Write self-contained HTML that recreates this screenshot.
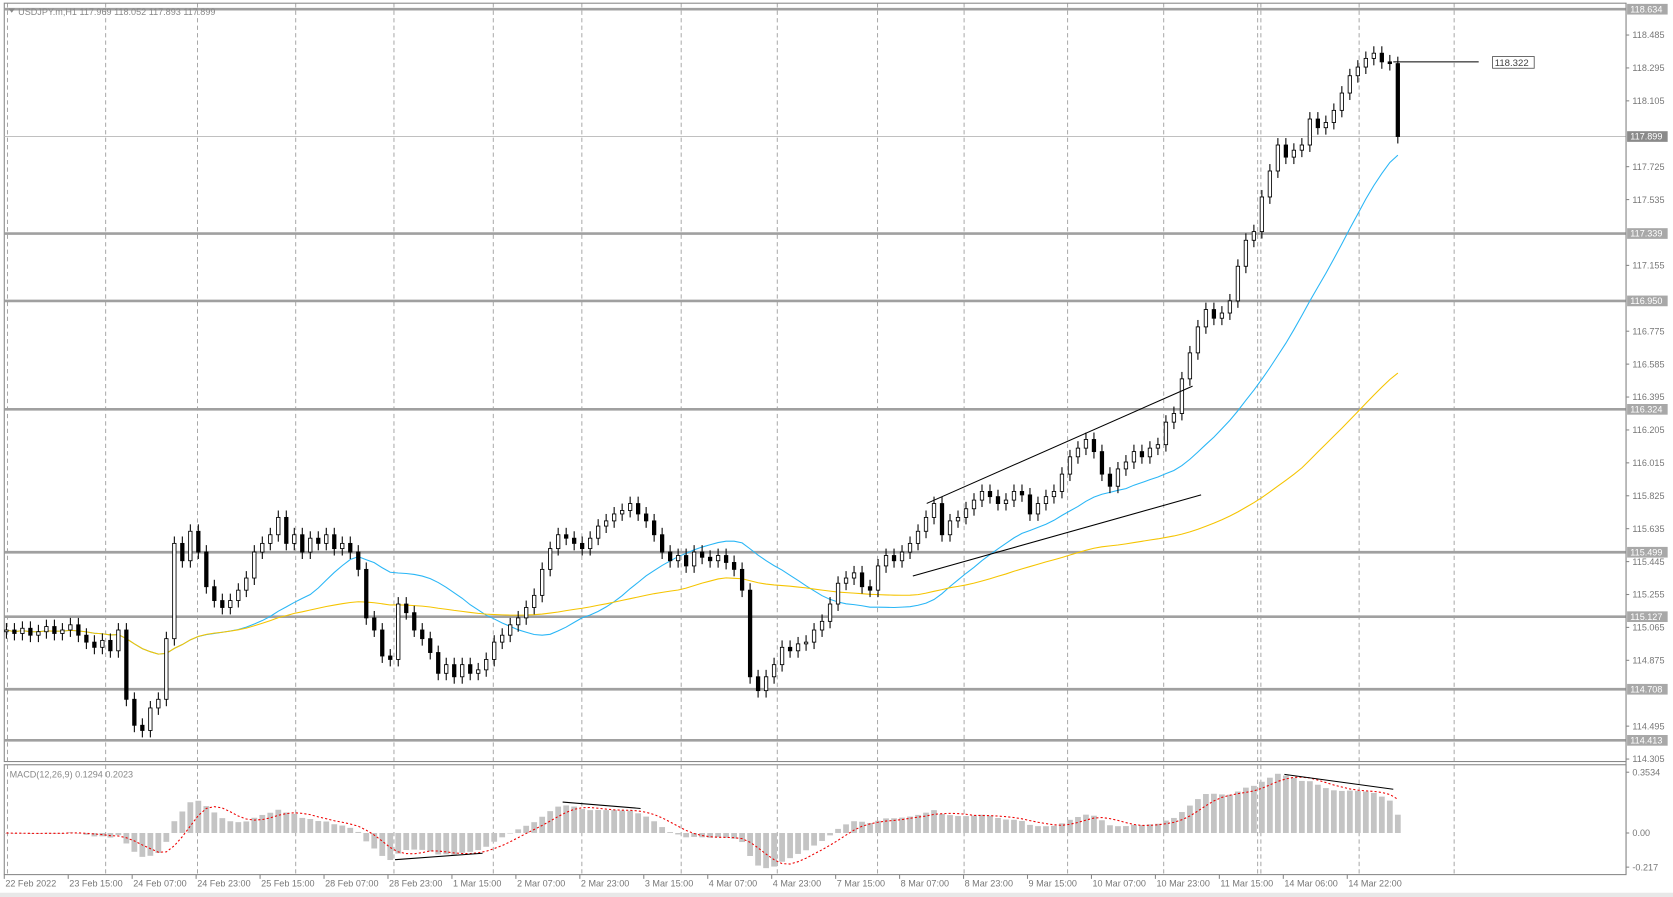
<!DOCTYPE html>
<html><head><meta charset="utf-8"><style>
html,body{margin:0;padding:0;background:#fff;overflow:hidden}
svg{display:block;font-family:"Liberation Sans",sans-serif}
</style></head><body>
<svg id="c" width="1673" height="897" viewBox="0 0 1567 841" preserveAspectRatio="none" xmlns="http://www.w3.org/2000/svg">
<rect x="0" y="0" width="1567" height="841" fill="#fff"/>
<g id="grid"></g>
<g id="levels"></g>
<g id="ma"></g>
<g id="candles"></g>
<g id="macd"></g>
<g id="draw"></g>
<g id="axis"></g>
</svg>
<script>
const closes=[115.05,115.03,115.06,115.02,115.04,115.07,115.03,115.05,115.08,115.02,
114.98,114.95,114.99,114.93,115.05,114.65,114.5,114.47,114.6,114.65,
115.0,115.55,115.45,115.62,115.5,115.3,115.22,115.18,115.22,115.28,
115.35,115.5,115.55,115.6,115.7,115.55,115.6,115.5,115.58,115.55,
115.6,115.52,115.55,115.5,115.4,115.12,115.05,114.9,114.88,115.2,
115.15,115.05,115.0,114.92,114.8,114.85,114.78,114.85,114.8,114.82,
114.88,114.98,115.02,115.08,115.12,115.18,115.25,115.4,115.52,115.6,
115.58,115.55,115.52,115.58,115.65,115.68,115.72,115.74,115.78,115.72,
115.68,115.6,115.5,115.45,115.48,115.42,115.5,115.47,115.45,115.48,
115.44,115.4,115.28,114.78,114.7,114.78,114.85,114.95,114.93,114.97,
114.98,115.05,115.1,115.2,115.32,115.35,115.38,115.3,115.28,115.42,
115.48,115.45,115.5,115.55,115.62,115.7,115.78,115.6,115.68,115.7,
115.75,115.8,115.85,115.82,115.78,115.8,115.85,115.83,115.72,115.78,
115.82,115.85,115.95,116.05,116.1,116.15,116.08,115.95,115.88,115.98,
116.02,116.08,116.05,116.1,116.12,116.25,116.3,116.5,116.65,116.8,
116.9,116.85,116.88,116.95,117.15,117.3,117.35,117.55,117.7,117.85,
117.78,117.82,117.85,118.0,117.95,117.98,118.05,118.15,118.25,118.3,
118.35,118.38,118.33,118.32,117.899];
const firstOpen=115.04;
const levelPrices=[118.634,117.339,116.950,116.324,115.499,115.127,114.708,114.413];
const tickPrices=["118.485","118.295","118.105","117.725","117.535","117.155","116.775","116.585","116.395","116.205","116.015","115.825","115.635","115.445","115.255","115.065","114.875","114.495","114.305"];
const timeLabels=["22 Feb 2022","23 Feb 15:00","24 Feb 07:00","24 Feb 23:00","25 Feb 15:00","28 Feb 07:00","28 Feb 23:00","1 Mar 15:00","2 Mar 07:00","2 Mar 23:00","3 Mar 15:00","4 Mar 07:00","4 Mar 23:00","7 Mar 15:00","8 Mar 07:00","8 Mar 23:00","9 Mar 15:00","10 Mar 07:00","10 Mar 23:00","11 Mar 15:00","14 Mar 06:00","14 Mar 22:00"];
const lastPrice=117.899, markPrice=118.322;

const NS="http://www.w3.org/2000/svg";
function el(p,t,a){const e=document.createElementNS(NS,t);for(const k in a)e.setAttribute(k,a[k]);p.appendChild(e);return e;}
const yP=p=>128+(117.899-p)*162.4;
const yM=v=>781-v*161;
const xB=i=>6+i*7.49;
const AX=1523;
const G=id=>document.getElementById(id);

let f=el(G('grid'),'rect',{x:4,y:3,width:AX-4,height:711,fill:'none',stroke:'#888','stroke-width':1});

f=el(G('grid'),'rect',{x:4,y:717,width:AX-4,height:103,fill:'none',stroke:'#888','stroke-width':1});

const gx=[7,99,185,277,369,462,545,638,728,822,903,1000,1090,1178,1181,1273,1362];
gx.forEach(x=>{
 const l=el(G('grid'),'line',{x1:x,x2:x,y1:3,y2:820,stroke:'#999','stroke-dasharray':'4,3','stroke-width':0.8});
 
});
levelPrices.forEach(p=>{
 const l=el(G('levels'),'line',{x1:4,x2:AX,y1:yP(p),y2:yP(p),stroke:'#a0a0a0','stroke-width':2.5});
 
});
let ll=el(G('levels'),'line',{x1:4,x2:AX,y1:yP(lastPrice),y2:yP(lastPrice),stroke:'#c0c0c0','stroke-width':1});


function sma(n){return closes.map((_,i)=>{const s=Math.max(0,i-n+1);let t=0;for(let j=s;j<=i;j++)t+=closes[j];return t/(i-s+1);});}
[[24,'#29b6f6','ma-fast'],[70,'#f5c400','ma-slow']].forEach(([n,c,nm])=>{
 const v=sma(n);const d=v.map((p,i)=>(i?'L':'M')+xB(i).toFixed(1)+' '+yP(p).toFixed(1)).join('');
 const pa=el(G('ma'),'path',{d:d,fill:'none',stroke:c,'stroke-width':1});
 
});

closes.forEach((c,i)=>{
 const o=i?closes[i-1]:firstOpen;const x=xB(i);
 const hi=Math.max(o,c)+0.04, lo=Math.min(o,c)-0.04;
 const g=el(G('candles'),'g',{});
 
 el(g,'line',{x1:x,x2:x,y1:yP(hi),y2:yP(lo),stroke:'#000','stroke-width':1});
 const top=yP(Math.max(o,c)),h=Math.max(1,Math.abs(yP(o)-yP(c)));
 el(g,'rect',{x:x-1.6,y:top,width:3.2,height:h,fill:c>=o?'#fff':'#000',stroke:'#000','stroke-width':0.8});
});

function ema(a,n){const k=2/(n+1);let r=[];a.forEach((v,i)=>r.push(i?v*k+r[i-1]*(1-k):v));return r;}
const e1=ema(closes,6),e2=ema(closes,13);
const macd=e1.map((v,i)=>v-e2[i]);
const sig=macd.map((_,i)=>{const s=Math.max(0,i-4);let t=0;for(let j=s;j<=i;j++)t+=macd[j];return t/(i-s+1);});
macd.forEach((v,i)=>{
 const y=yM(v);const r=el(G('macd'),'rect',{x:xB(i)-2.7,y:Math.min(y,781),width:5.4,height:Math.max(0.5,Math.abs(y-781)),fill:'#c4c4c4'});
 
});
let sp=el(G('macd'),'path',{d:sig.map((v,i)=>(i?'L':'M')+xB(i).toFixed(1)+' '+yM(v).toFixed(1)).join(''),fill:'none',stroke:'#e00','stroke-width':1,'stroke-dasharray':'2,2'});

let mt=el(G('macd'),'text',{x:9,y:729,'font-size':8.5,fill:'#888'});mt.textContent='MACD(12,26,9) 0.1294 0.2023';


const lines=[[868,472,1117,362,'channel-upper-line'],[855,540,1125,464,'channel-lower-line'],[1305,58,1385,58,'price-mark-line'],
[370,806,452,800,'macd-divergence-line'],[527,752,600,758,'macd-divergence-line'],[1203,726,1305,740,'macd-divergence-line']];
lines.forEach(a=>{const l=el(G('draw'),'line',{x1:a[0],y1:a[1],x2:a[2],y2:a[3],stroke:'#000','stroke-width':1});
 });
let mb=el(G('draw'),'rect',{x:1398,y:53,width:39,height:11,fill:'#fff',stroke:'#555','stroke-width':0.8});

let mtx=el(G('draw'),'text',{x:1400,y:62,'font-size':9,fill:'#444'});mtx.textContent=markPrice.toFixed(3);

let tt=el(G('draw'),'text',{x:17,y:14,'font-size':8.5,fill:'#888'});tt.textContent='USDJPY.m,H1  117.969 118.052 117.893 117.899';

let tri=el(G('draw'),'path',{d:'M8 8 L14 8 L11 12 Z',fill:'#888'});


const ax=G('axis');
let al=el(ax,'line',{x1:AX,x2:AX,y1:3,y2:820,stroke:'#888'});
tickPrices.forEach(s=>{const y=yP(+s);
 el(ax,'line',{x1:AX,x2:AX+3,y1:y,y2:y,stroke:'#888'});
 const t=el(ax,'text',{x:AX+6,y:y+3,'font-size':8.5,fill:'#777'});t.textContent=s;
 });
levelPrices.concat([lastPrice]).forEach((p,i,a)=>{const y=yP(p);const last=i===a.length-1;
 const r=el(ax,'rect',{x:AX+1,y:y-5,width:38,height:10,fill:last?'#8a8a8a':'#a8a8a8'});
 
 const t=el(ax,'text',{x:AX+4,y:y+3,'font-size':8.5,fill:'#fff'});t.textContent=p.toFixed(3);
 });
[['0.3534',724],['0.00',781],['-0.217',813]].forEach(([s,y])=>{
 el(ax,'line',{x1:AX,x2:AX+3,y1:y,y2:y,stroke:'#888'});
 const t=el(ax,'text',{x:AX+6,y:y+3,'font-size':8.5,fill:'#777'});t.textContent=s;
 });
timeLabels.forEach((s,i)=>{const x=4+i*59.9;
 el(ax,'line',{x1:x,x2:x,y1:820,y2:824,stroke:'#888'});
 const t=el(ax,'text',{x:x+1,y:831,'font-size':8.5,fill:'#777'});t.textContent=s;
 });
let bs=el(ax,'rect',{x:0,y:837,width:1567,height:4,fill:'#e8e8e8'});
</script>
</body></html>
